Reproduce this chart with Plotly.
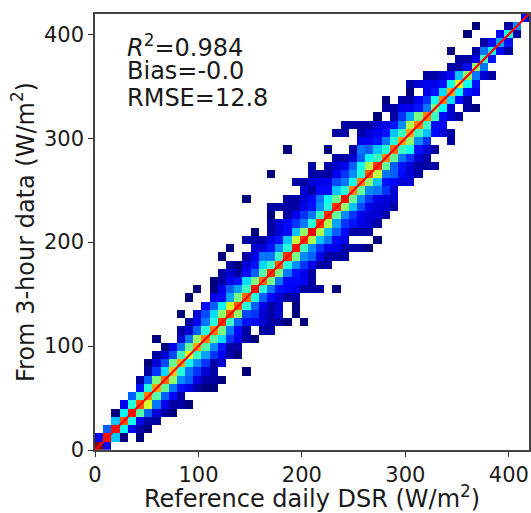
import plotly.graph_objects as go

BIN_WIDTH = 7.92
N_BINS = 53
AXIS_MAX = 419.5
LINE_ENDS = [0, 419.5]
TICKS = [0, 100, 200, 300, 400]
X_TITLE = "Reference daily DSR (W/m<sup>2</sup>)"
Y_TITLE = "From 3-hour data (W/m<sup>2</sup>)"
STATS = ["<i>R</i><sup>2</sup>=0.984", "Bias=-0.0", "RMSE=12.8"]
JET = [[0, "#00007f"], [0.11, "#0000ff"], [0.35, "#00ffff"], [0.5, "#7dff7a"],
       [0.65, "#ffff00"], [0.89, "#ff0000"], [1, "#7f0000"]]

# first occupied column of each row (row 0 at the bottom) and colour levels; 0 = empty bin
ROW_START = [0,0,1,2,2,3,4,5,5,6,6,7,8,7,10,11,10,13,11,12,14,15,16,15,16,18,19,21,21,21,18,25,24,21,26,29,23,32,29,30,34,35,35,38,38,40,43,44,43,47,45,46,52]
ROW_LEVELS = [
 [100,14],
 [15,88,33,5,0,5],
 [24,88,38,14,8,5],
 [33,82,40,14,8,8],
 [5,38,88,48,24,12,8,5],
 [14,42,82,62,26,14,8,8,5],
 [24,45,78,48,24,16,8],
 [17,42,75,50,26,17,14,8,5,5],
 [8,24,52,80,55,28,24,14,8,8,5],
 [8,20,35,72,42,26,20,12,8,0,0,0,5],
 [5,12,22,50,75,40,28,20,8,12],
 [8,12,22,45,65,45,30,20,14,8,5],
 [5,14,26,50,75,48,28,17,8,8],
 [5,0,0,12,26,55,78,48,35,20,14,8,5],
 [8,12,24,42,78,52,26,16,8,0,8,8],
 [8,14,26,42,85,45,24,17,16,12,8,8,5,0,5],
 [5,0,12,22,35,55,82,55,22,20,12,8,12,0,5],
 [16,24,38,62,82,42,24,14,8,12,0,5],
 [5,0,0,14,16,30,52,80,42,24,16,12,8,8],
 [5,0,5,14,24,30,45,88,42,26,17,16,14,8,8,8,0,5],
 [5,8,14,17,35,52,80,52,26,16,16,14,8],
 [8,12,8,16,24,48,85,52,26,17,14,8],
 [8,5,12,17,35,45,82,42,28,20,14,8,8],
 [5,0,0,8,14,26,26,45,85,52,28,24,14,8,8,8],
 [5,0,0,12,12,17,28,42,88,45,28,20,14,14,8,8,8,5],
 [8,8,8,14,17,33,60,85,58,33,26,16,14,0,0,0,5],
 [5,0,8,12,16,33,55,92,58,33,24,16,8,8,8],
 [8,12,16,20,26,42,85,58,30,20,17,14,12,8],
 [5,0,8,14,20,26,45,85,50,28,20,14,12,12,8],
 [8,8,8,8,14,17,28,42,85,55,33,22,14,12,12,8],
 [5,0,0,0,0,8,8,12,16,26,38,50,88,50,28,20,14,12,12],
 [12,8,16,16,33,42,78,50,28,26,20,12],
 [8,8,12,14,14,22,26,40,78,55,33,17,16,12,12],
 [5,0,0,0,0,8,8,8,14,20,28,42,82,60,26,24,16,12,8],
 [8,0,8,12,14,24,40,58,85,50,24,17,12,8,8,8],
 [8,8,12,24,38,45,78,50,26,20,12,8],
 [5,0,0,0,0,5,0,0,8,26,24,33,42,80,45,40,17,12,8],
 [14,14,17,26,42,75,55,28,20,0,0,8],
 [8,8,0,8,12,14,17,33,45,75,45,33,16,12,8],
 [8,8,8,8,12,14,17,28,58,78,45,16,16],
 [5,0,8,20,30,52,78,45,16,12,8],
 [8,8,14,14,17,26,52,38,12,0,8,5],
 [5,0,8,8,14,20,40,78,35,16,8],
 [5,0,14,17,35,75,38,17,14],
 [8,12,14,14,17,40,65,40,17],
 [8,8,12,16,33,55,26,12,8],
 [8,8,16,55,26],
 [8,8,14,45,17],
 [5,0,0,8,26,40,16,8],
 [8,16,30,17],
 [5,0,0,0,16,42,8],
 [5,0,0,0,8,28],
 [14],
]
ROW_START[26] = 19

z = [[None] * N_BINS for _ in range(N_BINS)]
for row, (start, levels) in enumerate(zip(ROW_START, ROW_LEVELS)):
    for offset, level in enumerate(levels):
        if level:
            z[row][start + offset] = level

fig = go.Figure()
fig.add_trace(go.Heatmap(
    z=z, x0=BIN_WIDTH / 2, dx=BIN_WIDTH, y0=BIN_WIDTH / 2, dy=BIN_WIDTH,
    zmin=5, zmax=100, colorscale=JET, showscale=False, hoverongaps=False,
))
fig.add_trace(go.Scatter(x=LINE_ENDS, y=LINE_ENDS, mode="lines",
                         line=dict(color="#ff0000", width=2.2), showlegend=False))

axis = dict(
    range=[0, AXIS_MAX], tickvals=TICKS, ticks="outside", ticklen=5, tickwidth=1.2,
    tickcolor="#333333", showgrid=False, zeroline=False, showline=True, mirror=True,
    linecolor="#444444", linewidth=1.5, tickfont=dict(size=21, color="#1a1a1a"),
)
fig.update_layout(
    width=531, height=513, autosize=False, paper_bgcolor="white", plot_bgcolor="white",
    margin=dict(l=95, r=1.5, t=14, b=62.5),
    font=dict(family="DejaVu Sans", color="#1a1a1a"),
    xaxis=dict(axis, title=dict(text=X_TITLE, font=dict(size=24), standoff=7)),
    yaxis=dict(axis, title=dict(text=Y_TITLE, font=dict(size=24), standoff=3)),
    showlegend=False,
)
for text, y in zip(STATS, [389, 365, 339]):
    fig.add_annotation(text=text, x=29, y=y, xref="x", yref="y", xanchor="left", yanchor="middle",
                       showarrow=False, font=dict(size=24, color="#1a1a1a"))

fig.write_html("out.html", config=dict(displayModeBar=False),
               post_script="document.body.style.margin='0';document.body.style.overflow='hidden';")
